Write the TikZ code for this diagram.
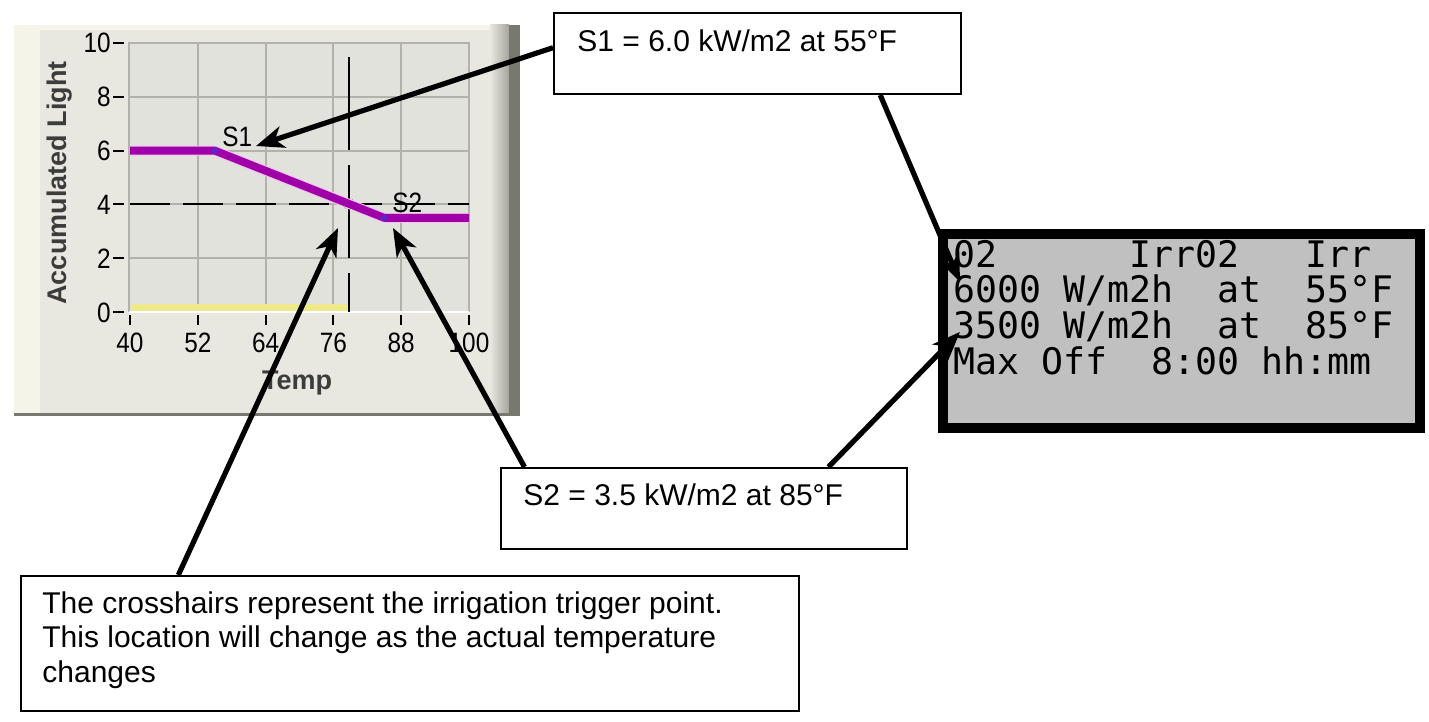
\documentclass[tikz,border=0pt]{standalone}
\usepackage{fontspec}
\setmainfont{Liberation Sans}
\newfontfamily\lcdfont{DejaVu Sans Mono}
\usetikzlibrary{arrows.meta,calc}
\definecolor{panel}{RGB}{233,232,224}
\definecolor{panellight}{RGB}{245,244,233}
\definecolor{plotbg}{RGB}{226,226,220}
\definecolor{gridc}{RGB}{178,178,170}
\definecolor{curvec}{RGB}{160,0,168}
\definecolor{haloc}{RGB}{240,195,240}
\definecolor{yellowbar}{RGB}{238,234,140}
\definecolor{markc}{RGB}{90,40,200}
\definecolor{lcdgray}{RGB}{192,192,192}
\definecolor{labelgray}{RGB}{60,60,60}
\definecolor{bevel}{RGB}{120,120,112}
\begin{document}
\begin{tikzpicture}[x=0.5pt,y=-0.5pt,
  callout/.style={draw=black, line width=1pt, fill=white, inner sep=0, anchor=north west},
  ptr/.style={line width=2.6pt, -{Stealth[length=14pt,width=11pt,inset=4pt]}},
  boxtext/.style={anchor=base west, inner sep=0, font=\fontsize{15}{15}\selectfont},
  lcdtext/.style={anchor=base west, inner sep=0, font=\lcdfont\fontsize{18.27}{18.27}\selectfont},
  ticklab/.style={inner sep=0, xscale=0.87, font=\fontsize{14}{14}\selectfont},
  ptlab/.style={inner sep=0, xscale=0.87, anchor=base west, font=\fontsize{14}{14}\selectfont},
  axislab/.style={inner sep=0, text=labelgray, font=\bfseries\fontsize{13.5}{13.5}\selectfont},
  gridline/.style={draw=gridc, line width=1pt},
  tickmark/.style={draw=black, line width=1pt},
  crossh/.style={draw=black, line width=1pt}]
\useasboundingbox (0,0) rectangle (1429,722);
\fill[white] (0,0) rectangle (1429,722);

% ---------- chart panel ----------
\fill[panel] (14,25) rectangle (520,416);
\fill[panellight] (14,25) rectangle (40,416);
\fill[panellight] (14,25) rectangle (520,30);
\shade[left color=panel, right color=bevel!60!panel] (490,25) rectangle (509,413);
\fill[bevel] (509,25) rectangle (520,416);
\fill[bevel] (14,413) rectangle (520,416);
% plot area
\fill[plotbg] (129,43) rectangle (469,312);
\foreach \t in {52,64,76,88}
  \draw[gridline] ({130+5.65*(\t-40)},43) -- ({130+5.65*(\t-40)},312);
\foreach \v in {2,4,6,8}
  \draw[gridline] (129,{312-26.9*\v}) -- (469,{312-26.9*\v});
\draw[draw=gridc, line width=1pt] (129,312) -- (129,43) -- (469,43) -- (469,312);
\draw[white, line width=1pt] (129,312) -- (469,312);
% y ticks and labels
\foreach \v in {0,2,4,6,8,10} {
  \draw[tickmark] (113,{312-26.9*\v}) -- (124,{312-26.9*\v});
  \node[ticklab, anchor=base east] (yl\v) at (111,{312-26.9*\v+10}) {\v};
}
% x ticks and labels
\foreach \t in {40,52,64,76,88,100} {
  \draw[tickmark] ({130+5.65*(\t-40)},315) -- ({130+5.65*(\t-40)},325);
  \node[ticklab, anchor=base] (xl\t) at ({130+5.65*(\t-40)},352) {\t};
}
\node[axislab, rotate=90, anchor=base] (ylab) at (66,183) {Accumulated Light};
\node[axislab, anchor=base] (xlab) at (297,389) {Temp};
% yellow bar
\draw[yellowbar, line width=3.5pt] (131,307) -- (348,307);
% crosshair
\draw[crossh, dash pattern=on 20pt off 6.5pt] (130,204) -- (469,204);
\draw[crossh, dash pattern=on 46.5pt off 7.5pt] (349,57) -- (349,312);
\draw[black, line width=0.6pt] (345,200) -- (353,208) (345,208) -- (353,200);
% curve
\draw[haloc, line width=5pt, line join=round] (130,150.6) -- (214.75,150.6) -- (384.25,217.85) -- (469,217.85);
\draw[curvec, line width=3.9pt, line join=round] (130,150.6) -- (214.75,150.6) -- (384.25,217.85) -- (469,217.85);
\fill[markc] (214.75,146.6) -- (218.75,150.6) -- (214.75,154.6) -- (210.75,150.6) -- cycle;
\fill[markc] (384.25,213.85) -- (388.25,217.85) -- (384.25,221.85) -- (380.25,217.85) -- cycle;
\node[ptlab] (s1lab) at (222,147) {S1};
\node[ptlab] (s2lab) at (392,212) {S2};

% ---------- LCD display ----------
\node[draw=black, line width=5pt, fill=lcdgray, inner sep=0, anchor=north west,
      minimum width=238.5pt, minimum height=97pt] (lcd) at (938,229) {};
\node[lcdtext] (lcd1) at (953,267) {02~~~~~~Irr02~~~Irr};
\node[lcdtext] (lcd2) at (953,302) {6000~W/m2h~~at~~55°F};
\node[lcdtext] (lcd3) at (953,338) {3500~W/m2h~~at~~85°F};
\node[lcdtext] (lcd4) at (953,374) {Max~Off~~8:00~hh:mm};

% ---------- callout boxes ----------
\node[callout, minimum width=203.5pt, minimum height=40.5pt] (s1box) at (553,12) {};
\node[boxtext] (s1text) at (577,52) {S1 = 6.0 kW/m2 at 55°F};
\node[callout, minimum width=203pt, minimum height=40.5pt] (s2box) at (500,467) {};
\node[boxtext] (s2text) at (523,505) {S2 = 3.5 kW/m2 at 85°F};
\node[callout, minimum width=389pt, minimum height=67.5pt] (cbox) at (20,575) {};
\node[boxtext] (ct1) at (42,613) {The crosshairs represent the irrigation trigger point.};
\node[boxtext] (ct2) at (42,647.5) {This location will change as the actual temperature};
\node[boxtext] (ct3) at (42,682) {changes};

% ---------- arrow targets ----------
\coordinate (tipS1) at (256,146);
\coordinate (tipS2) at (393,228);
\coordinate (tipX) at (338,228);
\coordinate (tipL1) at (960,282);
\coordinate (tipL2) at (960,332);

% ---------- arrows ----------
\draw[ptr] ($(s1box.north west)!0.43!(s1box.south west)$) -- (tipS1);
\draw[ptr] ($(s1box.south west)!0.8!(s1box.south east)$) -- (tipL1);
\draw[ptr] ($(s2box.north west)!0.06!(s2box.north east)$) -- (tipS2);
\draw[ptr] ($(s2box.north west)!0.805!(s2box.north east)$) -- (tipL2);
\draw[ptr] ($(cbox.north west)!0.203!(cbox.north east)$) -- (tipX);
\end{tikzpicture}
\end{document}
